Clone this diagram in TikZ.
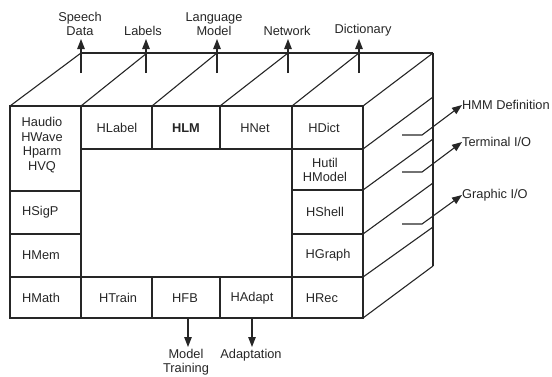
\documentclass[tikz,border=0pt]{standalone}
\usepackage{fontspec}
\setmainfont{Liberation Sans}
\usetikzlibrary{arrows.meta}
\definecolor{ink}{HTML}{262626}
\tikzset{
  edge/.style={draw=ink, line width=1.1pt},
  arr/.style={draw=ink, line width=1.1pt, -{Triangle[length=10pt,width=7.5pt]}},
  lbl/.style={inner sep=0pt, text=ink, font=\fontsize{12.8}{14.5}\selectfont, align=center},
}
\begin{document}
\begin{tikzpicture}[x=1pt,y=-1pt]
\useasboundingbox (0,0) rectangle (552,376);

% ---- front face grid ----
\draw[edge] (10,106) rectangle (363,318);
\draw[edge] (81,106) -- (81,318);
\draw[edge] (292,106) -- (292,318);
\draw[edge] (152,106) -- (152,149);
\draw[edge] (220,106) -- (220,149);
\draw[edge] (152,277) -- (152,318);
\draw[edge] (220,277) -- (220,318);
\draw[edge] (81,149) -- (363,149);
\draw[edge] (10,191) -- (81,191);
\draw[edge] (10,234) -- (81,234);
\draw[edge] (292,190) -- (363,190);
\draw[edge] (292,234) -- (363,234);
\draw[edge] (10,277) -- (363,277);

% ---- top face ----
\draw[edge] (81,53) -- (433,53);
\draw[edge] (10,106) -- (81,53);
\draw[edge] (81,106) -- (147,53);
\draw[edge] (152,106) -- (217,53);
\draw[edge] (220,106) -- (288,53);
\draw[edge] (292,106) -- (359,53);
\draw[edge] (363,106) -- (433,53);

% ---- right face ----
\draw[edge] (433,53) -- (433,266);
\draw[edge] (363,149) -- (433,97);
\draw[edge] (363,190) -- (433,139);
\draw[edge] (363,234) -- (433,183);
\draw[edge] (363,277) -- (433,227);
\draw[edge] (363,318) -- (433,266);

% ---- cell labels ----
\node[lbl] (haudio) at (42,145) {Haudio\\HWave\\Hparm\\HVQ};
\node[lbl, anchor=west] (hsigp) at (22,212) {HSigP};
\node[lbl, anchor=west] (hmem) at (22,255) {HMem};
\node[lbl, anchor=west] (hmath) at (22,298) {HMath};
\node[lbl] (hlabel) at (117,128) {HLabel};
\node[lbl, font=\fontsize{12.8}{14.5}\selectfont\bfseries] (hlm) at (186,128) {HLM};
\node[lbl] (hnet) at (255,128) {HNet};
\node[lbl] (hdict) at (324,128) {HDict};
\node[lbl] (hutil) at (325,170) {Hutil\\HModel};
\node[lbl] (hshell) at (325,212) {HShell};
\node[lbl] (hgraph) at (328,255) {HGraph};
\node[lbl] (htrain) at (118,298) {HTrain};
\node[lbl] (hfb) at (185,298) {HFB};
\node[lbl] (hadapt) at (252,298) {HAdapt};
\node[lbl] (hrec) at (322,298) {HRec};

% ---- top outputs ----
\node[lbl, anchor=south] (speech) at (80,36) {Speech\\Data};
\node[lbl, anchor=south] (labels) at (143,36) {Labels};
\node[lbl, anchor=south] (lang) at (214,36) {Language\\Model};
\node[lbl, anchor=south] (network) at (287,36) {Network};
\node[lbl, anchor=south] (dict) at (363,36) {Dictionary};
\coordinate (s1) at (81,73);
\coordinate (s2) at (146,73);
\coordinate (s3) at (217,73);
\coordinate (s4) at (288,73);
\coordinate (s5) at (359,73);
\draw[arr] (s1) -- (81,39);
\draw[arr] (s2) -- (146,39);
\draw[arr] (s3) -- (217,39);
\draw[arr] (s4) -- (288,39);
\draw[arr] (s5) -- (359,39);

% ---- right outputs ----
\node[lbl, anchor=west] (hmmdef) at (462,105) {HMM Definition};
\node[lbl, anchor=west] (term) at (462,142) {Terminal I/O};
\node[lbl, anchor=west] (graph) at (462,195) {Graphic I/O};
\coordinate (r1) at (402,135);
\coordinate (r2) at (402,172);
\coordinate (r3) at (402,224);
\draw[arr] (r1) -- (422,135) -- (hmmdef.west);
\draw[arr] (r2) -- (422,172) -- (term.west);
\draw[arr] (r3) -- (422,224) -- (graph.west);

% ---- bottom outputs ----
\node[lbl, anchor=north] (mtrain) at (186,349) {Model\\Training};
\node[lbl, anchor=north] (adapt) at (251,349) {Adaptation};
\coordinate (b1) at (188,318);
\coordinate (b2) at (252,318);
\draw[arr] (b1) -- (188,347);
\draw[arr] (b2) -- (252,347);
\end{tikzpicture}
\end{document}
